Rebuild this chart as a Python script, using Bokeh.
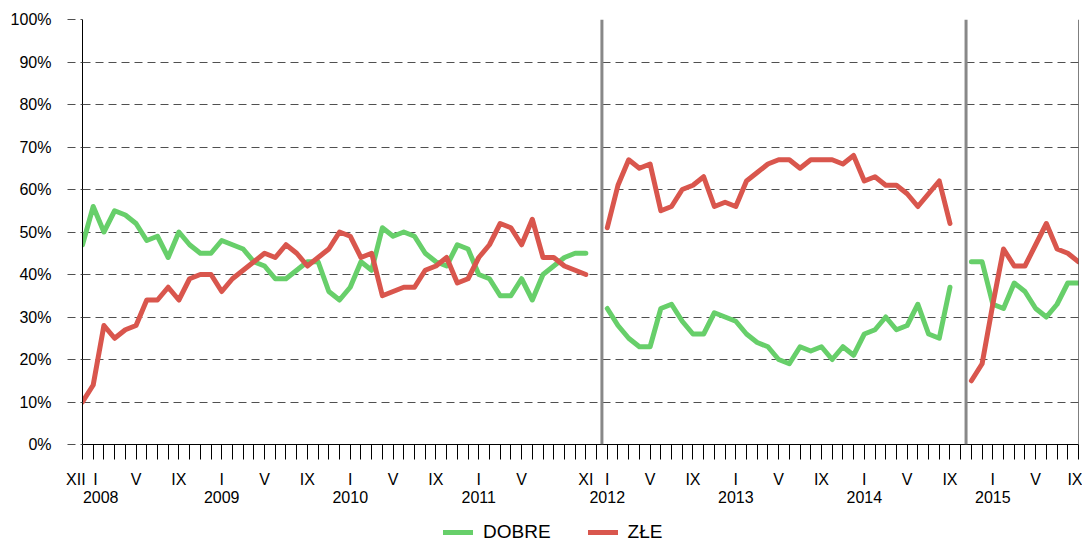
import numpy as np
from bokeh.plotting import figure
from bokeh.layouts import column
from bokeh.models import (Range1d, FixedTicker, LinearAxis, Span, Legend,
                          LegendItem, PrintfTickFormatter)
from bokeh.embed import file_html
from bokeh.resources import INLINE

# month index: 0 = XII 2007 ... 93 = IX 2015
seg1_months = list(range(0, 48))
seg2_months = list(range(49, 82))
seg3_months = list(range(83, 94))

dobre_1 = [47, 56, 50, 55, 54, 52, 48, 49, 44, 50, 47, 45, 45, 48, 47, 46,
           43, 42, 39, 39, 41, 43, 43, 36, 34, 37, 43, 41, 51, 49, 50, 49,
           45, 43, 42, 47, 46, 40, 39, 35, 35, 39, 34, 40, 42, 44, 45, 45]
zle_1 = [10, 14, 28, 25, 27, 28, 34, 34, 37, 34, 39, 40, 40, 36, 39, 41,
         43, 45, 44, 47, 45, 42, 44, 46, 50, 49, 44, 45, 35, 36, 37, 37,
         41, 42, 44, 38, 39, 44, 47, 52, 51, 47, 53, 44, 44, 42, 41, 40]
dobre_2 = [32, 28, 25, 23, 23, 32, 33, 29, 26, 26, 31, 30, 29, 26, 24, 23, 20,
           19, 23, 22, 23, 20, 23, 21, 26, 27, 30, 27, 28, 33, 26, 25, 37]
zle_2 = [51, 61, 67, 65, 66, 55, 56, 60, 61, 63, 56, 57, 56, 62, 64, 66, 67,
         67, 65, 67, 67, 67, 66, 68, 62, 63, 61, 61, 59, 56, 59, 62, 52]
dobre_3 = [43, 43, 33, 32, 38, 36, 32, 30, 33, 38, 38]
zle_3 = [15, 19, 33, 46, 42, 42, 47, 52, 46, 45, 43]

month_label_pos = [0, 1, 5, 9, 13, 17, 21, 25, 29, 33, 37, 41, 47, 49, 53, 57,
                   61, 65, 69, 73, 77, 81, 85, 89, 93]
month_label_txt = ["XII\u00a0\u00a0\u00a0", "\u00a0I", "V", "IX", "I", "V", "IX",
                   "I", "V", "IX", "I", "V", "XI", "I", "V", "IX", "I", "V",
                   "IX", "I", "V", "IX", "I", "V", "IX"]
year_pos = [1.7, 13, 25, 37, 49, 61, 73, 85]
year_txt = ["2008", "2009", "2010", "2011", "2012", "2013", "2014", "2015"]
separators = [48.5, 82.5]
y_ticks = list(range(0, 101, 10))
series_names = ["DOBRE", "ZŁE"]

GREEN = "#67cf6a"
RED = "#d9564d"
FONT = "Liberation Sans"
W = 1082

months = np.arange(0, 94)
dobre = np.full(94, np.nan)
zle = np.full(94, np.nan)
for ms, d, z in [(seg1_months, dobre_1, zle_1), (seg2_months, dobre_2, zle_2),
                 (seg3_months, dobre_3, zle_3)]:
    dobre[ms] = d
    zle[ms] = z

p = figure(width=W, height=505, x_range=Range1d(0, 93), y_range=Range1d(0, 100),
           output_backend="svg", toolbar_location=None,
           min_border_left=82, min_border_right=4, min_border_top=19,
           min_border_bottom=60)
p.outline_line_color = None
p.xgrid.visible = False
p.ygrid.ticker = FixedTicker(ticks=y_ticks)
p.ygrid.grid_line_color = "#505050"
p.ygrid.grid_line_dash = "8 5"
p.ygrid.grid_line_width = 1

yax = p.yaxis[0]
yax.ticker = FixedTicker(ticks=y_ticks)
yax.formatter = PrintfTickFormatter(format="%d%%")
yax.axis_line_color = "black"
yax.major_tick_out = 15
yax.major_tick_in = 0
yax.major_tick_line_color = "#505050"
yax.major_tick_line_dash = "8 5"
yax.minor_tick_line_color = None
yax.major_label_standoff = 16
yax.major_label_text_font = FONT
yax.major_label_text_font_size = "16px"
yax.major_label_text_color = "black"

xax = p.xaxis[0]
xax.ticker = FixedTicker(ticks=list(range(0, 94)))
overrides = {int(m): "" for m in months}
for pos, t in zip(month_label_pos, month_label_txt):
    overrides[pos] = t
xax.major_label_overrides = overrides
xax.axis_line_color = "black"
xax.major_tick_out = 15
xax.major_tick_in = 0
xax.major_tick_line_color = "black"
xax.minor_tick_line_color = None
xax.major_label_standoff = 11
xax.major_label_text_font = FONT
xax.major_label_text_font_size = "16px"
xax.major_label_text_color = "black"

year_axis = LinearAxis(ticker=FixedTicker(ticks=year_pos),
                       major_label_overrides=dict(zip(year_pos, year_txt)),
                       axis_line_color=None, major_tick_line_color=None,
                       minor_tick_line_color=None, major_tick_out=0, major_tick_in=0,
                       major_label_standoff=0, major_label_text_font=FONT,
                       major_label_text_font_size="16px", major_label_text_color="black")
p.add_layout(year_axis, "below")

for s in separators:
    p.add_layout(Span(location=s, dimension="height", line_color="#888888", line_width=3))
p.add_layout(Span(location=93, dimension="height", line_color="black", line_width=1))

line_kw = dict(line_width=5, line_join="round", line_cap="round")
p.line(months, dobre, line_color=GREEN, **line_kw)
p.line(months, zle, line_color=RED, **line_kw)

# legend strip below the chart (its series lie outside its own y range,
# so only the legend is visible there)
pl = figure(width=W, height=36, x_range=Range1d(0, 93), y_range=Range1d(-200, -164),
            output_backend="svg", toolbar_location=None,
            x_axis_location=None, y_axis_location=None,
            min_border_left=82, min_border_right=4, min_border_top=0,
            min_border_bottom=0)
pl.outline_line_color = None
pl.grid.visible = False
lg = pl.line(months, dobre, line_color=GREEN, **line_kw)
lr = pl.line(months, zle, line_color=RED, **line_kw)
legend = Legend(items=[LegendItem(label=series_names[0], renderers=[lg]),
                       LegendItem(label=series_names[1], renderers=[lr])],
                orientation="horizontal", location=(361, -2),
                label_text_font=FONT, label_text_font_size="19px",
                label_text_color="black",
                glyph_width=30, glyph_height=20, label_standoff=10, spacing=37,
                padding=0, margin=0, border_line_color=None,
                background_fill_alpha=0)
pl.add_layout(legend, "center")

layout = column(p, pl, spacing=0)
open("out.html", "w").write(file_html(layout, INLINE))
